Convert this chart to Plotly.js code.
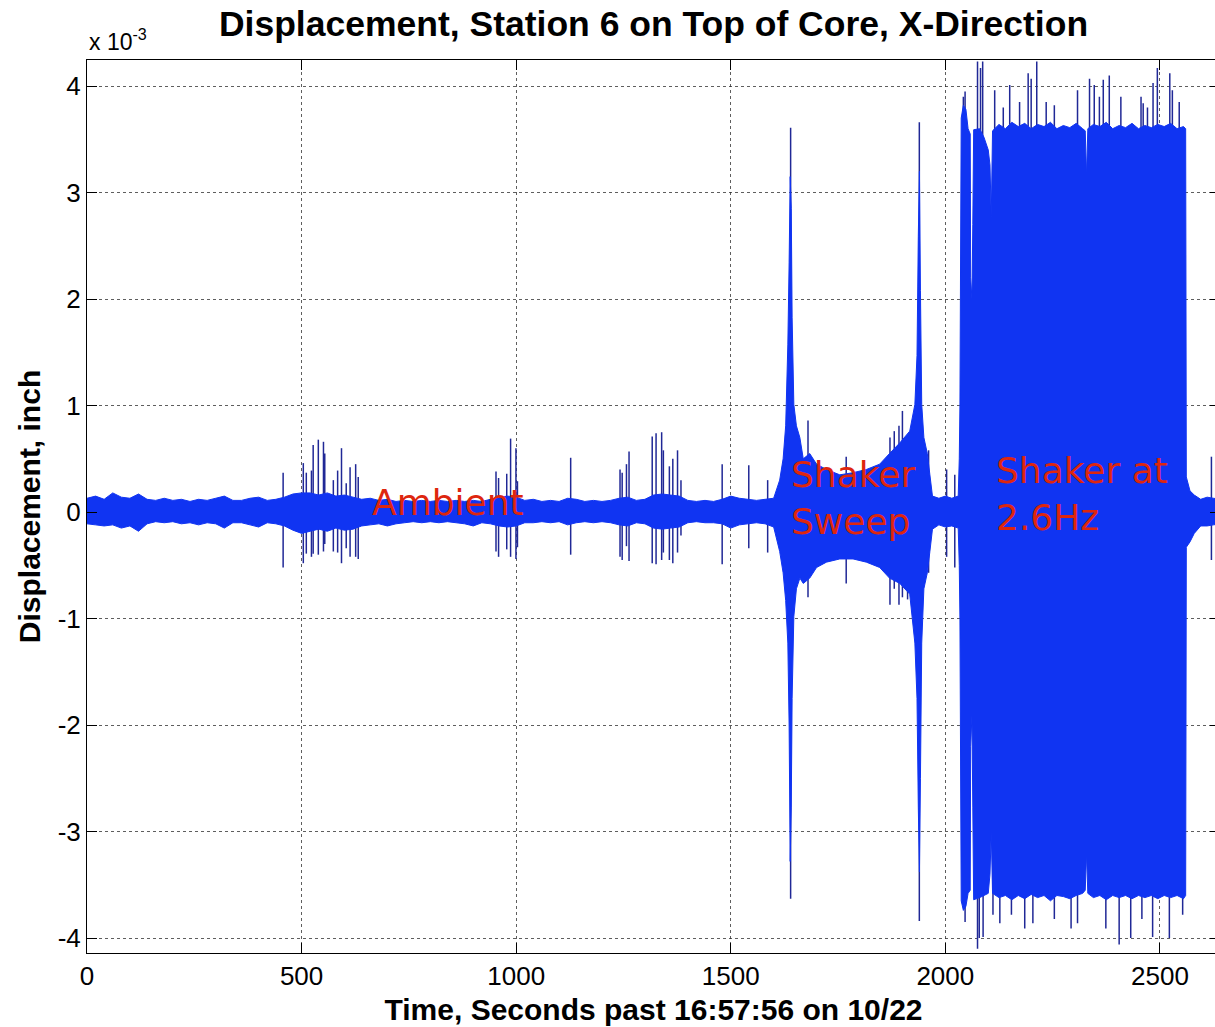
<!DOCTYPE html>
<html>
<head>
<meta charset="utf-8">
<script src="https://cdn.plot.ly/plotly-3.0.1.min.js"></script>
<style>
html,body{margin:0;padding:0;overflow:hidden;background:#fff;width:1215px;height:1027px;}
#chart{width:1220px;height:1027px;}
</style>
</head>
<body>
<div id="chart"></div>
<script>
// ---- Envelope of the displacement record (x 10^-3 inch) ----
const envT = [
  0,20,40,60,80,100,120,140,160,180,200,220,240,260,280,300,320,340,360,380,
  400,420,440,460,480,500,520,540,560,580,600,620,640,660,680,700,720,740,760,780,
  800,820,840,860,880,900,920,940,960,980,1000,1020,1040,1060,1080,1100,1120,1140,1160,1180,
  1200,1220,1240,1260,1280,1300,1320,1340,1360,1380,1400,1420,1440,1460,1480,1500,1520,1540,1560,1580,1600,
  1614,1622,1628,1633,1636,1638.5,1641,1643,1647,1653,1661,1669,1684,1700,1723,1754,1785,1816,1847,1870,
  1894,1917,1929,1934,1937,1939.7,1942,1945,1950,1958,1964,1970,
  1985,2000,2015,2030,
  2032.5,2034,2037,2042,2048,2053,2058,2059,2062,2064,2066,2080,2090,2100,2104,2107,2110,
  2125,2140,2155,2170,2185,2200,2215,2230,2245,2260,2275,2290,2305,2320,2326,2329,2332,2345,2360,2375,
  2390,2405,2420,2435,2450,2465,2480,2495,2510,2525,2540,2555,2560,
  2561.5,2570,2580,2595,2610,2625,2640
];
const envHi = [
  0.13,0.15,0.12,0.18,0.14,0.13,0.17,0.12,0.11,0.13,0.11,0.12,0.10,0.12,0.11,0.13,0.15,0.11,0.11,0.13,
  0.14,0.11,0.12,0.14,0.17,0.18,0.18,0.16,0.18,0.15,0.16,0.14,0.12,0.13,0.11,0.12,0.10,0.11,0.10,0.11,
  0.10,0.11,0.10,0.11,0.10,0.11,0.10,0.12,0.14,0.15,0.14,0.11,0.12,0.10,0.11,0.10,0.13,0.12,0.10,0.11,
  0.10,0.11,0.13,0.14,0.11,0.12,0.16,0.17,0.16,0.15,0.11,0.10,0.11,0.10,0.12,0.15,0.13,0.12,0.11,0.12,0.13,
  0.30,0.50,0.81,1.57,2.34,3.15,2.85,1.83,1.01,0.81,0.70,0.50,0.55,0.45,0.40,0.35,0.37,0.40,0.45,0.55,
  0.65,0.76,1.01,1.47,2.59,3.20,2.08,1.01,0.70,0.55,0.35,0.15,
  0.13,0.15,0.13,0.15,
  0.50,1.00,3.70,3.82,3.78,3.60,3.55,2.20,2.00,2.70,3.59,3.60,3.52,3.40,3.26,2.77,3.58,
  3.64,3.60,3.66,3.62,3.65,3.60,3.64,3.62,3.66,3.60,3.63,3.61,3.65,3.60,3.58,3.15,3.60,3.64,3.62,3.66,
  3.60,3.63,3.61,3.65,3.60,3.63,3.61,3.64,3.62,3.65,3.60,3.62,3.60,
  0.33,0.20,0.16,0.12,0.14,0.13,0.12
];
const envLo = [
  -0.11,-0.12,-0.13,-0.12,-0.15,-0.13,-0.18,-0.11,-0.09,-0.10,-0.09,-0.11,-0.10,-0.12,-0.10,-0.11,-0.15,-0.10,-0.10,-0.12,
  -0.14,-0.10,-0.11,-0.13,-0.17,-0.20,-0.18,-0.16,-0.18,-0.15,-0.17,-0.16,-0.13,-0.12,-0.11,-0.13,-0.11,-0.10,-0.09,-0.10,
  -0.09,-0.10,-0.09,-0.10,-0.11,-0.13,-0.10,-0.11,-0.13,-0.14,-0.13,-0.10,-0.10,-0.09,-0.10,-0.09,-0.12,-0.10,-0.09,-0.10,
  -0.09,-0.10,-0.12,-0.13,-0.10,-0.11,-0.15,-0.16,-0.15,-0.14,-0.10,-0.09,-0.10,-0.10,-0.11,-0.15,-0.12,-0.11,-0.10,-0.11,-0.14,
  -0.37,-0.57,-0.83,-1.23,-2.00,-3.28,-2.77,-1.75,-0.98,-0.72,-0.62,-0.67,-0.62,-0.52,-0.47,-0.44,-0.44,-0.47,-0.52,-0.62,
  -0.67,-0.77,-1.23,-1.75,-2.77,-3.38,-2.50,-1.23,-0.72,-0.57,-0.37,-0.16,
  -0.12,-0.14,-0.13,-0.15,
  -0.50,-1.00,-3.65,-3.74,-3.70,-3.58,-3.55,-2.20,-1.91,-2.77,-3.64,-3.62,-3.60,-3.58,-3.40,-3.00,-3.58,
  -3.62,-3.60,-3.64,-3.60,-3.63,-3.59,-3.62,-3.60,-3.65,-3.60,-3.61,-3.63,-3.60,-3.58,-3.55,-3.20,-3.58,-3.62,-3.60,-3.64,
  -3.60,-3.62,-3.60,-3.63,-3.60,-3.62,-3.60,-3.63,-3.60,-3.62,-3.60,-3.63,-3.60,
  -0.33,-0.28,-0.20,-0.13,-0.13,-0.12,-0.11
];

// ---- Isolated spikes (both directions) ----
const spikeT  = [457,504,511,523,527,539,551,554,574,584,593,604,613,626,632,
                 953,959,978,987,999.5,1003,1127,1242,1247,1257,1263,1317,1326,1339,1343,1357,1365,1376,1384,
                 1480,1542,1586,1639.5,1680,1769,1871,1881,1892,1900,1912,1939.4,1961,2003,2022,2620];
const spikeHi = [0.37,0.46,0.37,0.39,0.63,0.68,0.66,0.55,0.30,0.39,0.60,0.27,0.42,0.45,0.33,
                 0.38,0.32,0.36,0.69,0.60,0.29,0.51,0.40,0.37,0.45,0.57,0.71,0.74,0.75,0.58,0.43,0.50,0.58,0.30,
                 0.45,0.44,0.30,3.61,0.86,0.52,0.70,0.76,0.81,0.95,0.72,3.66,0.58,0.40,0.35,0.52];
const spikeLo = [-0.52,-0.48,-0.39,-0.42,-0.39,-0.40,-0.37,-0.30,-0.37,-0.38,-0.48,-0.34,-0.42,-0.42,-0.44,
                 -0.37,-0.42,-0.35,-0.42,-0.44,-0.33,-0.40,-0.42,-0.45,-0.32,-0.46,-0.48,-0.49,-0.45,-0.38,-0.45,-0.48,-0.38,-0.22,
                 -0.49,-0.34,-0.38,-3.63,-0.80,-0.67,-0.87,-0.72,-0.87,-0.80,-0.82,-3.84,-0.57,-0.42,-0.52,-0.45];

// ---- Peaks sticking out of the 2.6 Hz block ----
const topPeakT = [2042,2046,2075,2082,2087,2115,2135,2150,2173,2193,2200,2213,2235,2254,2308,2336,2347,2359,2368,2382,2409,2456,2461,2471,2484,2494,2523,2529,2545];
const topPeakY = [3.90,3.95,4.23,4.17,4.23,3.96,3.80,4.01,3.85,4.12,4.07,4.23,3.85,3.82,3.96,4.07,4.01,3.90,4.06,4.10,3.90,3.90,3.84,3.80,4.03,4.17,4.12,3.96,3.85];
const botPeakT = [2046,2075,2079,2088,2111,2127,2154,2185,2204,2254,2293,2308,2374,2405,2432,2458,2483,2522,2553];
const botPeakY = [-3.85,-4.10,-4.00,-3.99,-3.78,-3.86,-3.78,-3.91,-3.86,-3.82,-3.91,-3.86,-3.91,-4.06,-4.00,-3.82,-3.99,-4.00,-3.78];

// ---- Ticks and labels ----
const xTickVals = [0, 500, 1000, 1500, 2000, 2500];
const xTickText = ['0', '500', '1000', '1500', '2000', '2500'];
const yTickVals = [-4, -3, -2, -1, 0, 1, 2, 3, 4];
const yTickText = ['-4', '-3', '-2', '-1', '0', '1', '2', '3', '4'];
const titleText = 'Displacement, Station 6 on Top of Core, X-Direction';
const xTitle = 'Time, Seconds past 16:57:56 on 10/22';
const yTitle = 'Displacement, inch';
const notes = [
  {text: 'Ambient', t: 659, v: 0.09},
  {text: 'Shaker<br>Sweep', t: 1636, v: 0.13},
  {text: 'Shaker at<br>2.6Hz', t: 2114, v: 0.17}
];

const BLUE = 'rgb(16,52,242)';
const SPIKE = 'rgb(32,40,150)';

function segs(ts, lo, hi) {
  const x = [], y = [];
  for (let i = 0; i < ts.length; i++) {
    x.push(ts[i], ts[i], null);
    y.push(lo[i], hi[i], null);
  }
  return {x, y};
}
const s1 = segs(spikeT, spikeLo, spikeHi);
const s2 = segs(topPeakT, topPeakT.map(() => 0), topPeakY);
const s3 = segs(botPeakT, botPeakT.map(() => 0), botPeakY);

// spikes first so the envelope fill sits on top of their inner part
const traces = [
  {x: s1.x, y: s1.y, mode: 'lines', line: {color: SPIKE, width: 1.5}, hoverinfo: 'skip', showlegend: false},
  {x: s2.x, y: s2.y, mode: 'lines', line: {color: SPIKE, width: 1.5}, hoverinfo: 'skip', showlegend: false},
  {x: s3.x, y: s3.y, mode: 'lines', line: {color: SPIKE, width: 1.5}, hoverinfo: 'skip', showlegend: false},
  {x: envT, y: envHi, mode: 'lines', line: {color: BLUE, width: 1, simplify: false}, hoverinfo: 'skip', showlegend: false},
  {x: envT, y: envLo, mode: 'lines', fill: 'tonexty', fillcolor: BLUE, line: {color: BLUE, width: 1, simplify: false}, hoverinfo: 'skip', showlegend: false}
];

const FONT = 'Liberation Sans, Arial, Helvetica, sans-serif';
const axisCommon = {
  showgrid: true, gridcolor: 'rgba(40,40,40,0.75)', griddash: 'dot', gridwidth: 1,
  zeroline: false, showline: true, linecolor: '#000', linewidth: 1, mirror: 'ticks',
  ticks: 'inside', ticklen: 10, tickcolor: '#000', tickwidth: 1, tickmode: 'array',
  tickfont: {family: FONT, size: 26, color: '#000'}
};

const annotations = notes.map(n => ({
  text: n.text, x: n.t, y: n.v, xref: 'x', yref: 'y', xanchor: 'left', yanchor: 'middle',
  align: 'left', showarrow: false,
  font: {family: 'DejaVu Sans, Verdana, sans-serif', size: 36, color: 'rgb(222,38,14)'}
}));
annotations.push({
  text: 'x 10<sup>-3</sup>', xref: 'paper', yref: 'paper', x: 0, y: 1.022,
  xanchor: 'left', yanchor: 'middle', showarrow: false,
  font: {family: FONT, size: 23, color: '#000'}
});

const layout = {
  width: 1220, height: 1027,
  margin: {l: 87, r: 0, t: 60, b: 74},
  paper_bgcolor: '#fff', plot_bgcolor: '#fff',
  title: {text: titleText, x: 0.5, xref: 'paper', y: 0.977, yref: 'container', yanchor: 'middle',
          font: {family: FONT, size: 35.5, color: '#000', weight: 'bold'}},
  xaxis: Object.assign({}, axisCommon, {
    range: [0, 2640], tickvals: xTickVals, ticktext: xTickText,
    title: {text: xTitle, font: {family: FONT, size: 30, color: '#000', weight: 'bold'}, standoff: 8}
  }),
  yaxis: Object.assign({}, axisCommon, {
    range: [-4.14, 4.245], tickvals: yTickVals, ticktext: yTickText,
    title: {text: yTitle, font: {family: FONT, size: 30, color: '#000', weight: 'bold'}, standoff: 8}
  }),
  annotations: annotations,
  showlegend: false
};

Plotly.newPlot('chart', traces, layout, {displayModeBar: false, staticPlot: true});
</script>
</body>
</html>
